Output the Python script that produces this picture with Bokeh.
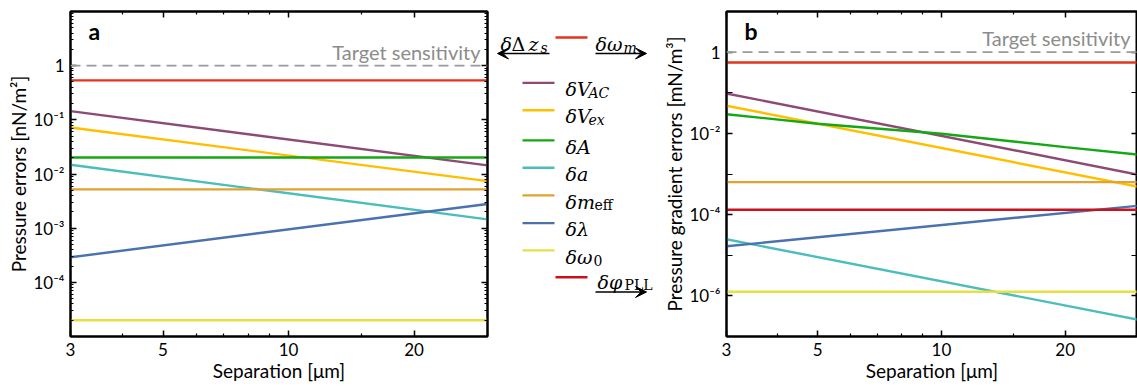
from bokeh.plotting import figure
from bokeh.layouts import row
from bokeh.models import (FixedTicker, LogAxis, Span, Label, Arrow, VeeHead,
                          CustomJSTickFormatter, Range1d)
from bokeh.core.properties import value
from bokeh.embed import file_html
from bokeh.resources import INLINE

# ---------------------------------------------------------------- data
# separation [um] at which each error term is given
sep = [3, 30]
sep_fine = [3, 5, 10, 20, 30]

# (a) pressure errors [nN/m^2]
a_omega_m = [0.535, 0.535]
a_V_AC = [0.145, 0.0144]
a_V_ex = [0.072, 0.0074]
a_A = [0.0202, 0.0202]
a_a = [0.0148, 0.00145]
a_m_eff = [0.0052, 0.0052]
a_lambda = [2.9e-4, 2.8e-3]
a_omega_0 = [2.0e-5, 2.0e-5]

# (b) pressure gradient errors [mN/m^3]
b_omega_m = [0.557, 0.557]
b_V_AC = [0.096, 9.7e-4]
b_V_ex = [0.048, 4.9e-4]
b_A = [0.0296, 0.0173, 0.0098, 0.0046, 0.003]   # on sep_fine
b_a = [2.47e-5, 2.6e-7]
b_m_eff = [6.3e-4, 6.3e-4]
b_lambda = [1.66e-5, 1.65e-4]
b_omega_0 = [1.26e-6, 1.26e-6]
b_phi_PLL = [1.32e-4, 1.32e-4]

target = 1.0

x_tick_values = [3, 5, 10, 20]
x_minor_values = [4, 6, 7, 8, 9, 15, 30]

# ---------------------------------------------------------------- style
C_OMEGA_M = "#e2341d"
C_V_AC = "#8c4a74"
C_V_EX = "#ffbf00"
C_A = "#14a814"
C_a = "#4bbdbd"
C_M_EFF = "#e2a232"
C_LAMBDA = "#4a72ae"
C_OMEGA_0 = "#e6e045"
C_PHI = "#cc111d"
LW = 2.4
FONT = "Lato"
MATH = "DejaVu Serif"

sup_js = """
const e = Math.round(Math.log10(tick));
if (e == 0) return "1";
const s = {"-": "\u207b", "0": "\u2070", "1": "\u00b9", "2": "\u00b2", "3": "\u00b3",
           "4": "\u2074", "5": "\u2075", "6": "\u2076", "7": "\u2077", "8": "\u2078", "9": "\u2079"};
return "10" + String(e).split("").map(c => s[c]).join("");
"""
blank_js = "return '';"


def style_axis(ax, labels=True):
    ax.axis_line_color = "black"
    ax.axis_line_width = 2
    ax.major_tick_in = 6
    ax.major_tick_out = 0
    ax.minor_tick_in = 3
    ax.minor_tick_out = 0
    ax.major_tick_line_width = 1.5
    ax.minor_tick_line_width = 1.2
    ax.major_label_text_font = FONT
    ax.major_label_text_font_size = "17px"
    ax.major_label_text_color = "black"
    ax.axis_label_text_font = FONT
    ax.axis_label_text_font_size = "19px"
    ax.axis_label_text_font_style = "normal"
    ax.axis_label_text_color = "black"
    if not labels:
        ax.formatter = CustomJSTickFormatter(code=blank_js)
        ax.major_label_standoff = 0


def panel(width, left, y_range, y_major, y_minor, y_label, y_minor_len, letter):
    p = figure(width=width, height=387, x_axis_type="log", y_axis_type="log",
               x_range=Range1d(3, 30), y_range=Range1d(*y_range),
               min_border_left=left, min_border_right=width - left - 417,
               min_border_top=11, min_border_bottom=51,
               output_backend="svg", toolbar_location=None)
    p.xgrid.visible = False
    p.ygrid.visible = False
    p.outline_line_color = "black"
    p.outline_line_width = 2
    p.background_fill_color = "white"
    p.border_fill_color = "white"

    xt = FixedTicker(ticks=x_tick_values, minor_ticks=x_minor_values)
    yt = FixedTicker(ticks=y_major, minor_ticks=y_minor)

    p.xaxis.ticker = xt
    p.yaxis.ticker = yt
    style_axis(p.xaxis[0])
    style_axis(p.yaxis[0])
    p.xaxis.axis_label = "Separation [\u03bcm]"
    p.xaxis.major_label_standoff = 6
    p.xaxis.axis_label_standoff = 0
    p.yaxis.axis_label = y_label
    p.yaxis.formatter = CustomJSTickFormatter(code=sup_js)
    p.yaxis.major_label_standoff = 6
    p.yaxis.axis_label_standoff = 0
    p.yaxis.minor_tick_in = y_minor_len

    top = LogAxis(ticker=FixedTicker(ticks=x_tick_values, minor_ticks=x_minor_values))
    style_axis(top, labels=False)
    p.add_layout(top, "above")
    right = LogAxis(ticker=FixedTicker(ticks=y_major, minor_ticks=y_minor))
    style_axis(right, labels=False)
    right.minor_tick_in = y_minor_len
    p.add_layout(right, "right")

    p.add_layout(Span(location=target, dimension="width", line_color="#9a9a9a",
                      line_dash="10 6", line_width=1.6))
    p.add_layout(Label(x=30, y=target, x_offset=-7, y_offset=14, text="Target sensitivity",
                       text_align="right", text_baseline="alphabetic",
                       text_color="#8c8c8c", text_font=FONT, text_font_size="20px"))
    p.add_layout(Label(x=3, y=y_range[1], x_offset=18, y_offset=-19.5, text=letter,
                       text_align="left", text_baseline="alphabetic",
                       text_color="black", text_font=FONT, text_font_style="bold",
                       text_font_size="23px"))
    return p


# ---------------------------------------------------------------- panel a
a_minor = [k * 10.0 ** n for n in range(-5, 1) for k in range(2, 10)] + [10.0, 1e-5]
p1 = panel(495, 70, (1e-5, 10), [1e-4, 1e-3, 1e-2, 1e-1, 1], a_minor,
           "Pressure errors [nN/m\u00b2]", 3, "a")
p1.line(sep, a_omega_m, color=C_OMEGA_M, line_width=LW)
p1.line(sep, a_V_AC, color=C_V_AC, line_width=LW)
p1.line(sep, a_V_ex, color=C_V_EX, line_width=LW)
p1.line(sep, a_A, color=C_A, line_width=LW)
p1.line(sep, a_a, color=C_a, line_width=LW)
p1.line(sep, a_m_eff, color=C_M_EFF, line_width=LW)
p1.line(sep, a_lambda, color=C_LAMBDA, line_width=LW)
p1.line(sep, a_omega_0, color=C_OMEGA_0, line_width=LW)

# ---------------------------------------------------------------- panel b
p2 = panel(477, 60, (1e-7, 10), [1e-6, 1e-4, 1e-2, 1], [1e-7, 1e-5, 1e-3, 1e-1, 10],
           "Pressure gradient errors [mN/m\u00b3]", 6, "b")
p2.line(sep, b_omega_m, color=C_OMEGA_M, line_width=LW)
p2.line(sep, b_V_AC, color=C_V_AC, line_width=LW)
p2.line(sep, b_V_ex, color=C_V_EX, line_width=LW)
p2.line(sep_fine, b_A, color=C_A, line_width=LW)
p2.line(sep, b_a, color=C_a, line_width=LW)
p2.line(sep, b_m_eff, color=C_M_EFF, line_width=LW)
p2.line(sep, b_lambda, color=C_LAMBDA, line_width=LW)
p2.line(sep, b_omega_0, color=C_OMEGA_0, line_width=LW)
p2.line(sep, b_phi_PLL, color=C_PHI, line_width=LW)

# ---------------------------------------------------------------- legend strip
# canvas coordinates: x in page pixels, y downward
lg = figure(width=165, height=387, x_range=Range1d(495, 660), y_range=Range1d(387, 0),
            min_border=0, x_axis_location=None, y_axis_location=None,
            output_backend="svg", toolbar_location=None)
lg.xgrid.visible = False
lg.ygrid.visible = False
lg.outline_line_color = None


def piece(x, y, txt, italic=True, size="19px"):
    lg.text(x=[x], y=[y], text=[txt], text_font=value(MATH),
            text_font_style="italic" if italic else "normal",
            text_font_size=size, text_baseline="alphabetic", text_align="left",
            text_color="black")


def sub(x, y, txt, italic=True):
    piece(x, y + 4, txt, italic, "14px")


entries = [
    (C_V_AC, "\u03b4V", "AC", 588, True, 85),
    (C_V_EX, "\u03b4V", "ex", 588, True, 117.5),
    (C_A, "\u03b4A", None, 0, True, 153.5),
    (C_a, "\u03b4a", None, 0, True, 186),
    (C_M_EFF, "\u03b4m", "eff", 594, False, 219),
    (C_LAMBDA, "\u03b4\u03bb", None, 0, True, 252),
    (C_OMEGA_0, "\u03b4\u03c9", "0", 593, False, 284.5),
]
for col, main, s, sx, it, yy in entries:
    lg.line([522, 554], [yy, yy], color=col, line_width=LW)
    piece(565, yy + 7.5, main)
    if s:
        sub(sx, yy + 7.5, s, it)

# frequency terms with arrows
lg.line([555, 587], [31, 31], color=C_OMEGA_M, line_width=LW)
piece(500, 39, "\u03b4")
piece(511, 39, "\u0394", italic=False)
piece(528, 39, "z")
sub(540, 39, "s")
piece(595, 39, "\u03b4\u03c9")
sub(623, 39, "m")
lg.add_layout(Arrow(end=VeeHead(size=11, fill_color="black", line_color="black"),
                    x_start=549, y_start=50, x_end=497, y_end=50, line_width=1.5))
lg.add_layout(Arrow(end=VeeHead(size=11, fill_color="black", line_color="black"),
                    x_start=595, y_start=50, x_end=646, y_end=50, line_width=1.5))

lg.line([555, 587], [316.5, 316.5], color=C_PHI, line_width=LW)
piece(597, 322, "\u03b4\u03c6")
sub(624, 322, "PLL", italic=False)
lg.add_layout(Arrow(end=VeeHead(size=11, fill_color="black", line_color="black"),
                    x_start=595, y_start=334, x_end=646, y_end=334, line_width=1.5))

layout = row(p1, lg, p2)
open("out.html", "w").write(file_html(layout, INLINE))
